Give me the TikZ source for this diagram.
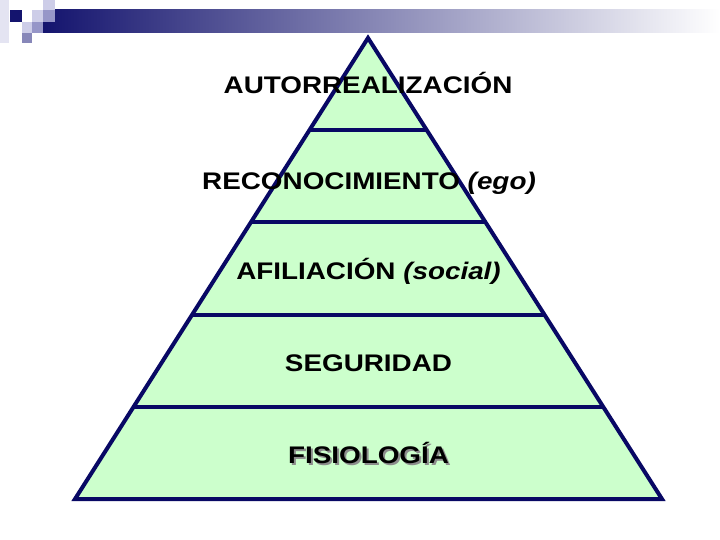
\documentclass[tikz,border=0pt]{standalone}
\usepackage{fontspec}
\setmainfont{Liberation Sans}[FakeStretch=1.16]
\usetikzlibrary{calc}
\definecolor{navy}{RGB}{20,20,110}
\definecolor{edgenavy}{RGB}{8,8,100}
\definecolor{lavL}{RGB}{205,205,232}
\definecolor{lavM}{RGB}{150,150,200}
\definecolor{lavD}{RGB}{135,135,185}
\definecolor{lavXL}{RGB}{228,228,242}
\definecolor{pyrfill}{RGB}{204,255,204}
\newcommand{\shadowtext}[1]{\rlap{\raisebox{-2pt}{\hspace{2pt}\textcolor{black!45}{#1}}}#1}
\tikzset{
  lvl/.style={anchor=base, inner sep=0pt, font=\fontsize{24}{28}\selectfont\bfseries, text=black},
  edge/.style={draw=edgenavy, line width=4pt},
}
\begin{document}
\begin{tikzpicture}[x=1pt,y=-1pt]
\useasboundingbox (0,0) rectangle (720,540);
\fill[white] (0,0) rectangle (720,540);
% header decoration
\shade[left color=navy, right color=white] (43,10) rectangle (720,33);
\fill[lavXL] (0,0) rectangle (9,43);
\fill[navy] (10,10) rectangle (22,22);
\fill[lavL] (32,10) rectangle (43,22);
\fill[lavL] (43,0) rectangle (55,10);
\fill[lavM] (43,10) rectangle (55,22);
\fill[lavL] (22,22) rectangle (32,33);
\fill[lavM] (32,22) rectangle (43,33);
\fill[lavD] (22,33) rectangle (32,43);
% pyramid
\coordinate (apex) at (368,38);
\coordinate (bl) at (75,499);
\coordinate (br) at (662,499);
\fill[pyrfill] (apex) -- (bl) -- (br) -- cycle;
\foreach \k in {1,2,3,4}{
  \draw[edge] ($(apex)!\k/5!(bl)$) -- ($(apex)!\k/5!(br)$);
}
\draw[edge, line join=miter] (apex) -- (bl) -- (br) -- cycle;
% labels
\node[lvl] (n1) at (368,93.5) {AUTORREALIZACIÓN};
\node[lvl] (n2) at (369,190) {RECONOCIMIENTO \textit{(ego)}};
\node[lvl] (n3) at (368.5,279) {AFILIACIÓN \textit{(social)}};
\node[lvl] (n4) at (368.5,371.5) {SEGURIDAD};
\node[lvl] (n5) at (368.5,463.5) {\shadowtext{FISIOLOGÍA}};
\end{tikzpicture}
\end{document}
